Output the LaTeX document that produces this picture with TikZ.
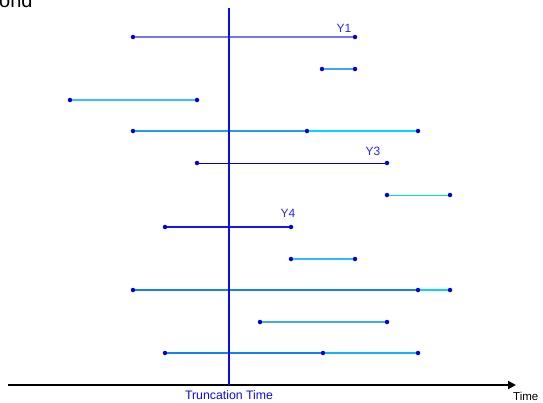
\documentclass[tikz,border=0pt]{standalone}
\usepackage{fontspec}
\setmainfont{Liberation Sans}
\usepackage{xcolor}
\usetikzlibrary{arrows.meta}
\definecolor{DotBlue}{RGB}{0,0,235}
\definecolor{LabelBlue}{RGB}{40,40,230}
\definecolor{TruncBlue}{RGB}{10,10,245}
\definecolor{MidBlue}{RGB}{118,118,245}
\definecolor{SkyBlue}{RGB}{60,170,240}
\definecolor{PaleCyan}{RGB}{60,190,250}
\definecolor{SteelSky}{RGB}{40,155,230}
\definecolor{BrightCyan}{RGB}{0,215,250}
\definecolor{DeepBlue}{RGB}{0,0,190}
\definecolor{PureBlue}{RGB}{20,20,245}
\definecolor{AzureBlue}{RGB}{40,190,250}
\definecolor{OceanBlue}{RGB}{20,130,240}
\definecolor{LagoonBlue}{RGB}{20,180,240}

\begin{document}
\begin{tikzpicture}[x=1pt, y=-1pt,
  endpt/.style={circle, fill=DotBlue, inner sep=0pt, minimum size=4.5pt},
  seg/.style={line width=2pt},
  thinseg/.style={line width=1pt},
  lbl/.style={font=\fontsize{12}{14}\selectfont, text=LabelBlue, inner sep=0pt},
]
\useasboundingbox (0,0) rectangle (543,402);

\node[anchor=base west, inner sep=0pt, font=\fontsize{20}{24}\selectfont]
  (title) at (-1,7) {ond};

% subjects, top to bottom
\node[endpt] (r1a) at (133,37) {};
\node[endpt] (r1b) at (355,37) {};
\node[endpt] (r2a) at (322,69) {};
\node[endpt] (r2b) at (355,69) {};
\node[endpt] (r3a) at (70,100) {};
\node[endpt] (r3b) at (197,100) {};
\node[endpt] (r4a) at (133,131) {};
\node[endpt] (r4b) at (307,131) {};
\node[endpt] (r4c) at (418,131) {};
\node[endpt] (r5a) at (197,163) {};
\node[endpt] (r5b) at (387,163) {};
\node[endpt] (r6a) at (387,195) {};
\node[endpt] (r6b) at (450,195) {};
\node[endpt] (r7a) at (165,227) {};
\node[endpt] (r7b) at (291,227) {};
\node[endpt] (r8a) at (291,259) {};
\node[endpt] (r8b) at (355,259) {};
\node[endpt] (r9a) at (133,290) {};
\node[endpt] (r9b) at (418,290) {};
\node[endpt] (r9c) at (450,290) {};
\node[endpt] (r10a) at (260,322) {};
\node[endpt] (r10b) at (387,322) {};
\node[endpt] (r11a) at (165,353) {};
\node[endpt] (r11b) at (323,353) {};
\node[endpt] (r11c) at (418,353) {};

\draw[seg, MidBlue] (r1a) -- (r1b);
\draw[seg, SkyBlue] (r2a) -- (r2b);
\draw[seg, PaleCyan] (r3a) -- (r3b);
\draw[seg, SteelSky] (r4a) -- (r4b);
\draw[seg, BrightCyan] (r4b) -- (r4c);
\draw[thinseg, DeepBlue] (r5a) -- (r5b);
\draw[thinseg, BrightCyan] (r6a) -- (r6b);
\draw[line width=1.2pt, PureBlue] (r7a) -- (r7b);
\draw[seg, AzureBlue] (r8a) -- (r8b);
\draw[seg, OceanBlue] (r9a) -- (r9b);
\draw[seg, BrightCyan] (r9b) -- (r9c);
\draw[seg, SkyBlue] (r10a) -- (r10b);
\draw[seg, OceanBlue] (r11a) -- (r11b);
\draw[seg, LagoonBlue] (r11b) -- (r11c);

\node[lbl] (y1) at (344,28) {Y1};
\node[lbl] (y3) at (373,151) {Y3};
\node[lbl] (y4) at (288,213) {Y4};

% time axis and truncation
\coordinate (origin) at (8,385);
\coordinate (tend) at (516,385);
\draw[line width=2pt, -{Triangle[length=8pt, width=8pt]}] (origin) -- (tend);
\node[anchor=west, inner sep=0pt, font=\fontsize{11.5}{13}\selectfont]
  (time) at (513,396) {Time};

\coordinate (ttop) at (229,8);
\coordinate (tbot) at (229,385);
\draw[line width=2pt, TruncBlue] (ttop) -- (tbot);
\node[lbl, text=TruncBlue, font=\fontsize{12.3}{14}\selectfont]
  (trunc) at (229,395.5) {Truncation Time};
\end{tikzpicture}
\end{document}
